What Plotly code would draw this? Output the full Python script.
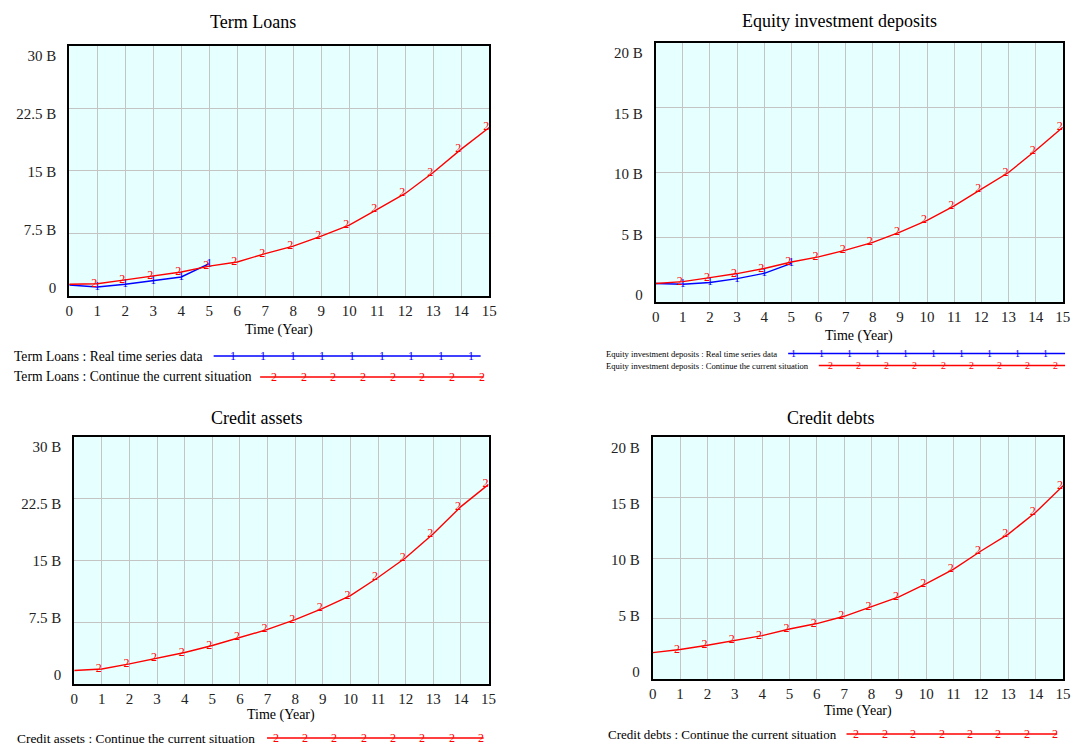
import plotly.graph_objects as go

# ---- data (values in billions) ----
years = list(range(16))
real_years = list(range(6))

term_loans_real = [1.35, 1.10, 1.43, 1.87, 2.30, 3.90]
term_loans_base = [1.43, 1.50, 1.95, 2.40, 2.90, 3.60, 4.10, 5.10, 6.00, 7.20,
                   8.50, 10.40, 12.30, 14.80, 17.60, 20.20]

equity_real = [1.42, 1.36, 1.50, 1.80, 2.21, 2.98]
equity_base = [1.42, 1.57, 1.88, 2.19, 2.58, 3.08, 3.48, 4.00, 4.60, 5.40,
               6.30, 7.42, 8.72, 10.00, 11.70, 13.50]

credit_assets_base = [1.62, 1.81, 2.42, 3.10, 3.80, 4.65, 5.65, 6.60, 7.80, 9.15,
                      10.70, 12.90, 15.30, 18.20, 21.50, 24.20]

credit_debts_base = [2.20, 2.45, 2.80, 3.20, 3.60, 4.15, 4.60, 5.20, 6.00, 6.80,
                     7.90, 9.10, 10.60, 12.00, 13.80, 16.00]

ticks_30 = [0, 7.5, 15, 22.5, 30]
ticktext_30 = ["0", "7.5 B", "15 B", "22.5 B", "30 B"]
ticks_20 = [0, 5, 10, 15, 20]
ticktext_20 = ["0", "5 B", "10 B", "15 B", "20 B"]

titles = ["Term Loans", "Equity investment deposits", "Credit assets", "Credit debts"]
real_label = " : Real time series data"
base_label = " : Continue the current situation"

# ---- page geometry (pixels) ----
W, H = 1078, 747
FONT = "Liberation Serif"
BLUE = "#0000FF"
RED = "#FF0000"
BG = "#E6FFFF"
GRID = "#C4C4C4"


def px(x):
    return x / W


def py(y):
    return 1 - y / H


panels = [
    dict(left=66, right=490.7, top=45.7, bottom=297, lab_top=56, lab_bot=289,
         title_cx=252, title_y=22, xt_y=331,
         ticks=ticks_30, ticktext=ticktext_30,
         real=term_loans_real, base=term_loans_base,
         legend=[dict(kind="real", tx=8, y=357, size=13.6, x0=212, x1=482, m0=232, step=30, n=9, msize=12),
                 dict(kind="base", tx=8, y=378, size=13.6, x0=259, x1=485, m0=273, step=30, n=8, msize=12)]),
    dict(left=659, right=1070.7, top=43.3, bottom=302.7, lab_top=53, lab_bot=296,
         title_cx=845, title_y=21, xt_y=337,
         ticks=ticks_20, ticktext=ticktext_20,
         real=equity_real, base=equity_base,
         legend=[dict(kind="real", tx=607, y=354.5, size=8.6, x0=793, x1=1073, m0=798, step=28.4, n=10, msize=10),
                 dict(kind="base", tx=607, y=366.5, size=8.6, x0=824, x1=1073, m0=836, step=28.4, n=9, msize=10)]),
    dict(left=71, right=490, top=437.7, bottom=685.7, lab_top=448, lab_bot=677,
         title_cx=256, title_y=419, xt_y=717,
         ticks=ticks_30, ticktext=ticktext_30,
         real=None, base=credit_assets_base,
         legend=[dict(kind="base", tx=11, y=740, size=13.4, x0=266, x1=485, m0=275, step=29.6, n=8, msize=12)]),
    dict(left=656, right=1071, top=438.5, bottom=681, lab_top=449, lab_bot=674,
         title_cx=836, title_y=419, xt_y=713,
         ticks=ticks_20, ticktext=ticktext_20,
         real=None, base=credit_debts_base,
         legend=[dict(kind="base", tx=609, y=736, size=13.0, x0=852, x1=1065, m0=862, step=28.7, n=8, msize=12)]),
]

fig = go.Figure()
layout = dict(width=W, height=H, autosize=False, margin=dict(l=0, r=0, t=0, b=0),
              paper_bgcolor="white", plot_bgcolor=BG, showlegend=False,
              font=dict(family=FONT, color="black"))
annotations = []
shapes = []

for i, p in enumerate(panels):
    n = i + 1
    xa = "x" if n == 1 else f"x{n}"
    ya = "y" if n == 1 else f"y{n}"
    la = f"y{n + 4}"
    xdom = [px(p["left"]), px(p["right"])]
    ydom = [py(p["bottom"]), py(p["top"])]
    tmin, tmax = p["ticks"][0], p["ticks"][-1]

    layout["xaxis" if n == 1 else f"xaxis{n}"] = dict(
        domain=xdom, anchor=ya, range=[0, 15], dtick=1, tick0=0,
        showgrid=True, gridcolor=GRID, gridwidth=1, zeroline=False,
        showline=True, mirror=True, linecolor="black", linewidth=2,
        ticks="", ticklabelstandoff=0, tickfont=dict(family=FONT, size=15, color="#222"),
        fixedrange=True)
    layout["yaxis" if n == 1 else f"yaxis{n}"] = dict(
        domain=ydom, anchor=xa, range=[tmin, tmax], tickvals=p["ticks"],
        showgrid=True, gridcolor=GRID, gridwidth=1, zeroline=False,
        showline=True, mirror=True, linecolor="black", linewidth=2,
        showticklabels=False, ticks="", fixedrange=True)

    # value labels sit slightly inside the top and bottom of the frame
    scale = (p["lab_bot"] - p["lab_top"]) / (tmax - tmin)
    lo = tmin - (p["bottom"] - p["lab_bot"]) / scale
    hi = tmax + (p["lab_top"] - p["top"]) / scale
    layout[f"yaxis{n + 4}"] = dict(
        overlaying=ya, anchor=xa, side="left", range=[lo, hi],
        tickvals=p["ticks"], ticktext=p["ticktext"], showgrid=False, zeroline=False,
        showline=False, ticks="", ticklabelstandoff=12,
        tickfont=dict(family=FONT, size=15, color="#222"), fixedrange=True)
    fig.add_trace(go.Scatter(x=[], y=[], xaxis=xa, yaxis=la, hoverinfo="skip"))

    if p["real"] is not None:
        fig.add_trace(go.Scatter(
            x=real_years, y=p["real"], xaxis=xa, yaxis=ya, mode="lines+text",
            line=dict(color=BLUE, width=1.4), text=[""] + ["1"] * (len(real_years) - 1),
            textposition="middle center", textfont=dict(family=FONT, size=12, color=BLUE),
            cliponaxis=False, name=titles[i] + real_label))
    fig.add_trace(go.Scatter(
        x=years, y=p["base"], xaxis=xa, yaxis=ya, mode="lines+text",
        line=dict(color=RED, width=1.4), text=[""] + ["2"] * (len(years) - 1),
        textposition="middle left", textfont=dict(family=FONT, size=12, color=RED),
        cliponaxis=False, name=titles[i] + base_label))

    # panel title and time axis title
    annotations.append(dict(text=titles[i], x=px(p["title_cx"]), y=py(p["title_y"]),
                            xref="paper", yref="paper", showarrow=False,
                            xanchor="center", yanchor="middle",
                            font=dict(family=FONT, size=18, color="black")))
    annotations.append(dict(text="Time (Year)", x=0.5, xref=f"{xa} domain",
                            y=py(p["xt_y"]), yref="paper", showarrow=False,
                            xanchor="center", yanchor="middle",
                            font=dict(family=FONT, size=14, color="black")))

    # legend rows: name, sample line and series number markers
    for e in p["legend"]:
        color = BLUE if e["kind"] == "real" else RED
        label = titles[i] + (real_label if e["kind"] == "real" else base_label)
        mark = "1" if e["kind"] == "real" else "2"
        annotations.append(dict(text=label, x=px(e["tx"]), y=py(e["y"]),
                                xref="paper", yref="paper", showarrow=False,
                                xanchor="left", yanchor="middle",
                                font=dict(family=FONT, size=e["size"], color="black")))
        shapes.append(dict(type="line", xref="paper", yref="paper",
                           x0=px(e["x0"]), x1=px(e["x1"]), y0=py(e["y"]), y1=py(e["y"]),
                           line=dict(color=color, width=1.6)))
        for k in range(e["n"]):
            annotations.append(dict(text=mark, x=px(e["m0"] + k * e["step"]), y=py(e["y"]),
                                    xref="paper", yref="paper", showarrow=False,
                                    xanchor="center", yanchor="middle",
                                    font=dict(family=FONT, size=e["msize"], color=color)))

layout["annotations"] = annotations
layout["shapes"] = shapes
fig.update_layout(**layout)
fig.write_html("out.html")
